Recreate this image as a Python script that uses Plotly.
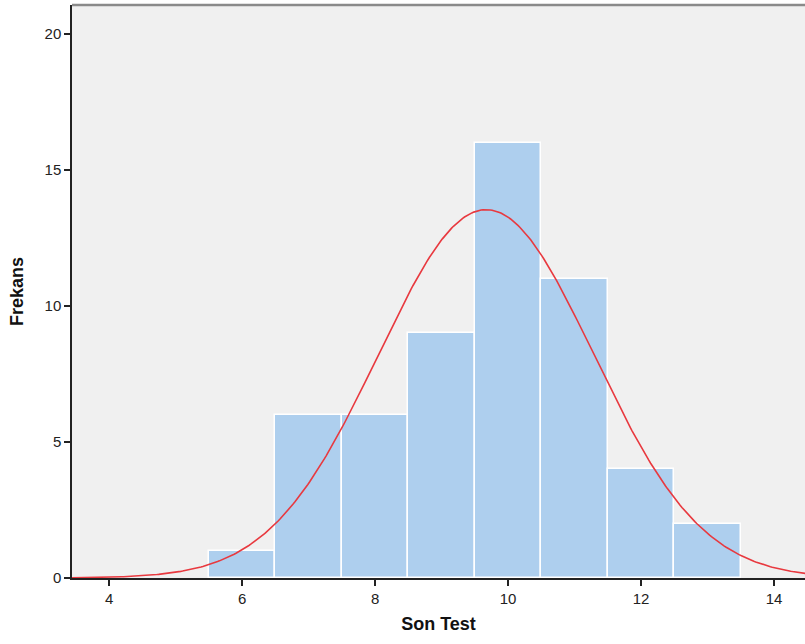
import numpy as np
import plotly.graph_objects as go

bin_centers = [6, 7, 8, 9, 10, 11, 12, 13]
counts = [1, 6, 6, 9, 16, 11, 4, 2]
mean_val = 9.67
sd_val = 1.62
n_total = sum(counts)
bin_width = 1.0

xs = np.linspace(3.44, 14.5, 400)
ys = n_total * bin_width / (sd_val * np.sqrt(2 * np.pi)) * np.exp(-0.5 * ((xs - mean_val) / sd_val) ** 2)

fig = go.Figure()
fig.add_trace(go.Bar(
    x=bin_centers, y=counts, width=1.0,
    marker=dict(color="#aecfee", line=dict(color="white", width=1.5)),
    hoverinfo="x+y", showlegend=False,
))
fig.add_trace(go.Scatter(
    x=xs, y=ys, mode="lines",
    line=dict(color="#e8393f", width=1.6), showlegend=False,
))

fig.update_layout(
    width=805, height=644,
    margin=dict(l=72, r=0, t=5, b=66),
    paper_bgcolor="white", plot_bgcolor="#f0f0f0",
    font=dict(family="Liberation Sans, Arial, sans-serif", color="#222222", size=15),
    bargap=0,
    shapes=[dict(type="line", xref="paper", yref="paper", x0=0, x1=1, y0=1, y1=1,
                 line=dict(color="#8a8a8a", width=2.5))],
)
fig.update_xaxes(
    range=[3.44, 14.466], tickvals=[4, 6, 8, 10, 12, 14],
    showgrid=False, zeroline=False,
    showline=True, linecolor="#222222", linewidth=1.5,
    ticks="outside", ticklen=6, tickwidth=1.5, tickcolor="#222222",
    tickfont=dict(size=15),
    title=dict(text="<b>Son Test</b>", font=dict(size=18, color="#111111"), standoff=12),
)
fig.update_yaxes(
    range=[0, 21.07], tickvals=[0, 5, 10, 15, 20],
    showgrid=False, zeroline=False,
    showline=True, linecolor="#222222", linewidth=1.5,
    ticks="outside", ticklen=6, tickwidth=1.5, tickcolor="#222222",
    tickfont=dict(size=15),
    title=dict(text="<b>Frekans</b>", font=dict(size=18, color="#111111"), standoff=16),
)

fig.write_html("out.html", config={"displayModeBar": False},
               post_script="document.body.style.margin='0';document.body.style.padding='0';")
